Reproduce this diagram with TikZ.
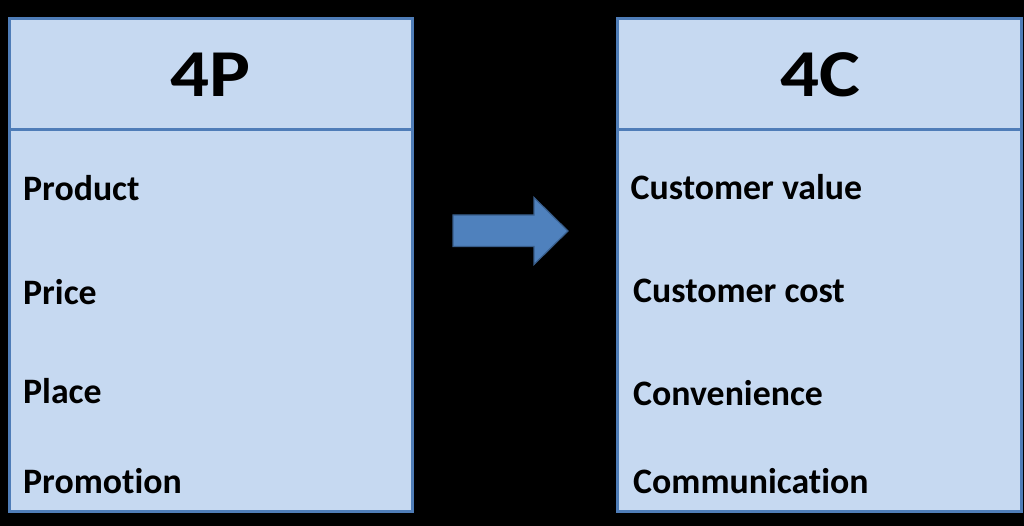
\documentclass[tikz,border=0pt]{standalone}
\usepackage{fontspec}
\setmainfont{Carlito}[Ligatures=NoCommon]
\definecolor{boxfill}{HTML}{C6D9F1}
\definecolor{boxline}{HTML}{4F7DB8}
\definecolor{arrfill}{HTML}{4F81BD}
\definecolor{arrline}{HTML}{385D8A}
\begin{document}
\begin{tikzpicture}[x=1pt,y=-1pt,
  panel/.style={fill=boxfill,draw=boxline,line width=3pt},
  divider/.style={draw=boxline,line width=3pt},
  title/.style={anchor=base,inner sep=0pt,font=\fontsize{67}{67}\selectfont\bfseries},
  item/.style={anchor=base west,inner sep=0pt,font=\fontsize{35.8}{36}\selectfont\bfseries},
  bigarrow/.style={fill=arrfill,draw=arrline,line width=1.2pt,line join=miter}]
\fill[black] (0,0) rectangle (1024,526);
\useasboundingbox (0,0) rectangle (1024,526);
% left panel
\draw[panel] (9,18.5) rectangle (412.5,511);
\coordinate (ldl) at (9,130);
\coordinate (ldr) at (412.5,130);
\draw[divider] (ldl) -- (ldr);
% right panel
\draw[panel] (617.5,18.5) rectangle (1021,511);
\coordinate (rdl) at (617.5,130);
\coordinate (rdr) at (1021,130);
\draw[divider] (rdl) -- (rdr);
% titles
\node[title] (t4p) at (210.5,96.5) {\scalebox{1.15}[1]{4P}};
\node[title] (t4c) at (820,96.5) {\scalebox{1.15}[1]{4C}};
% left items
\node[item] (product) at (23,200.5) {Product};
\node[item] (price) at (23,305) {Price};
\node[item] (place) at (23,403.5) {Place};
\node[item] (promotion) at (23,493) {Promotion};
% right items
\node[item] (cvalue) at (630.5,200) {Customer value};
\node[item] (ccost) at (633,302) {Customer cost};
\node[item] (conv) at (633,405.5) {Convenience};
\node[item] (comm) at (633,493) {Communication};
% arrow
\draw[bigarrow] (453,215) -- (534,215) -- (534,197.5) -- (568,231) -- (534,264.5) -- (534,246.5) -- (453,246.5) -- cycle;
\end{tikzpicture}
\end{document}
